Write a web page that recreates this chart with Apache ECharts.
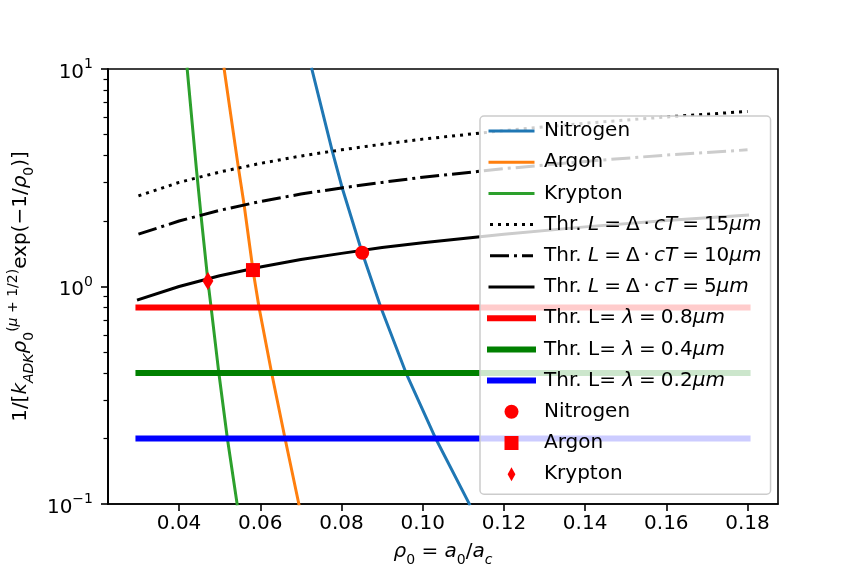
<!DOCTYPE html>
<html lang="en">
<head>
<meta charset="UTF-8">
<title>ADK threshold</title>
<script src="https://cdn.jsdelivr.net/npm/echarts@6/dist/echarts.min.js"></script>
<style>
  html, body { margin: 0; padding: 0; background: #fff; }
  #main { width: 864px; height: 576px; }
</style>
</head>
<body>
<div id="main"></div>
<script>
// ---- data ----
var xTicks = [0.04, 0.06, 0.08, 0.10, 0.12, 0.14, 0.16, 0.18];
var yMinorTicks = [0.2, 0.3, 0.4, 0.5, 0.6, 0.7, 0.8, 0.9, 2, 3, 4, 5, 6, 7, 8, 9];

// ionisation curves [rho0, value]
var nitrogenCurve = [[0.0727, 10], [0.0777, 4.21], [0.0802, 2.83], [0.0851, 1.43],
                     [0.0897, 0.8], [0.0959, 0.4], [0.1032, 0.2], [0.1115, 0.1]];
var argonCurve = [[0.0511, 10], [0.0546, 3.53], [0.0560, 2.39], [0.0582, 1.19],
                  [0.0597, 0.8], [0.0628, 0.4], [0.0661, 0.2], [0.0695, 0.1]];
var kryptonCurve = [[0.0420, 10], [0.0443, 3.43], [0.0454, 2.13], [0.0471, 1.06],
                    [0.0479, 0.8], [0.0498, 0.4], [0.0519, 0.2], [0.0543, 0.1]];

// threshold curves L = delta*cT
var thrX = [0.03, 0.04, 0.05, 0.06, 0.07, 0.08, 0.09, 0.10, 0.12, 0.14, 0.16, 0.18];
var thr5 = [0.87, 1.00, 1.12, 1.23, 1.33, 1.42, 1.51, 1.59, 1.74, 1.88, 2.01, 2.13];
var thr10 = [1.74, 2.00, 2.24, 2.46, 2.66, 2.84, 3.01, 3.18, 3.48, 3.76, 4.02, 4.25];
var thr15 = [2.61, 3.01, 3.36, 3.68, 3.98, 4.25, 4.51, 4.76, 5.21, 5.63, 6.02, 6.38];

// threshold L = lambda
var lambdaX = [0.03, 0.18];
var lam08 = [0.8, 0.8];
var lam04 = [0.4, 0.4];
var lam02 = [0.2, 0.2];

// crossing points
var nitrogenPt = [0.0851, 1.43];
var argonPt = [0.0582, 1.19];
var kryptonPt = [0.0471, 1.06];

function pairs(xs, ys) {
    var out = [];
    for (var i = 0; i < xs.length; i++) out.push([xs[i], ys[i]]);
    return out;
}

var FONT = 'DejaVu Sans';
var mathRich = {
    n: { fontSize: 20, fontFamily: FONT, color: '#000', lineHeight: 30, verticalAlign: 'middle' },
    i: { fontSize: 20, fontFamily: FONT, color: '#000', lineHeight: 30, verticalAlign: 'middle', fontStyle: 'italic' },
    sub: { fontSize: 14, fontFamily: FONT, color: '#000', lineHeight: 22, verticalAlign: 'bottom' },
    isub: { fontSize: 14, fontFamily: FONT, color: '#000', lineHeight: 22, verticalAlign: 'bottom', fontStyle: 'italic' },
    sup: { fontSize: 14, fontFamily: FONT, color: '#000', lineHeight: 17, verticalAlign: 'top' },
    isup: { fontSize: 14, fontFamily: FONT, color: '#000', lineHeight: 17, verticalAlign: 'top', fontStyle: 'italic' }
};

var sp = '\u2005';
var dot = '\u2009·\u2009';
var eq = sp + '=' + sp;
var legendText = {
    'Nitrogen': '{n|Nitrogen}',
    'Argon': '{n|Argon}',
    'Krypton': '{n|Krypton}',
    'thr15': '{n|Thr. }{i|L}{n|' + eq + 'Δ' + dot + '}{i|cT}{n|' + eq + '15}{i|μm}',
    'thr10': '{n|Thr. }{i|L}{n|' + eq + 'Δ' + dot + '}{i|cT}{n|' + eq + '10}{i|μm}',
    'thr5': '{n|Thr. }{i|L}{n|' + eq + 'Δ' + dot + '}{i|cT}{n|' + eq + '5}{i|μm}',
    'lam08': '{n|Thr. L= }{i|λ}{n|' + eq + '0.8}{i|μm}',
    'lam04': '{n|Thr. L= }{i|λ}{n|' + eq + '0.4}{i|μm}',
    'lam02': '{n|Thr. L= }{i|λ}{n|' + eq + '0.2}{i|μm}',
    'Nitrogen pt': '{n|Nitrogen}',
    'Argon pt': '{n|Argon}',
    'Krypton pt': '{n|Krypton}'
};

var diamond = 'path://M5,0 L10,9 L5,18 L0,9 Z';
var square = 'path://M0,0 L10,0 L10,10 L0,10 Z';

function curve(name, data, color, width, type, cap) {
    return {
        name: name, type: 'line', data: data, symbol: 'none', showSymbol: false, clip: true, z: 2,
        lineStyle: { color: color, width: width, type: type, cap: cap },
        itemStyle: { color: color },
        emphasis: { disabled: true }
    };
}

function marker(name, pt, symbol, size) {
    return {
        name: name, type: 'scatter', data: [pt], symbol: symbol, symbolSize: size, z: 5,
        itemStyle: { color: '#ff0000', opacity: 1 },
        emphasis: { disabled: true }
    };
}

function lineItem(name, color, width, type) {
    return {
        name: name,
        itemStyle: { opacity: 0 },
        lineStyle: { color: color, width: width, type: type, opacity: 1 }
    };
}

function markItem(name, icon) {
    return { name: name, icon: icon, itemStyle: { color: '#ff0000', opacity: 1 } };
}

var chart = echarts.init(document.getElementById('main'), null, { renderer: 'canvas' });

var option = {
    backgroundColor: '#ffffff',
    animation: false,
    grid: {
        left: 108, right: 86, top: 69, bottom: 72,
        outerBoundsMode: 'none', containLabel: false,
        show: true, borderColor: '#000', borderWidth: 1.6, backgroundColor: 'transparent'
    },
    xAxis: {
        type: 'value', min: 0.0225, max: 0.1875,
        name: '{i|ρ}{sub|0}{n| = }{i|a}{sub|0}{n|/}{i|a}{isub|c}',
        nameLocation: 'middle', nameGap: 33,
        nameTextStyle: { rich: mathRich },
        axisLine: { show: true, onZero: false, lineStyle: { color: '#000', width: 1.6 } },
        splitLine: { show: false },
        axisTick: { show: true, customValues: xTicks, length: 7, lineStyle: { color: '#000', width: 1.6 } },
        axisLabel: {
            customValues: xTicks, margin: 10,
            fontSize: 20, fontFamily: FONT, color: '#000',
            formatter: function (v) { return v.toFixed(2); }
        }
    },
    yAxis: [{
        type: 'log', logBase: 10, min: 0.1, max: 10,
        name: '{n|1/[}{i|k}{isub|ADK}{i|ρ}{sub|0}{sup|(}{isup|μ}{sup| + 1/2)}{n|exp(−1/}{i|ρ}{sub|0}{n|)]}',
        nameLocation: 'middle', nameGap: 62, nameRotate: 90,
        nameTextStyle: { rich: mathRich },
        axisLine: { show: true, onZero: false, lineStyle: { color: '#000', width: 1.6 } },
        splitLine: { show: false },
        axisTick: { show: true, length: 7, lineStyle: { color: '#000', width: 1.6 } },
        axisLabel: {
            margin: 15, padding: [7, 0, 0, 0],
            formatter: function (v) {
                var e = Math.round(Math.log10(v));
                return '{n|10}{sup|' + (e < 0 ? '−' + (-e) : e) + '}';
            },
            rich: {
                n: { fontSize: 20, fontFamily: FONT, color: '#000', lineHeight: 30, verticalAlign: 'middle' },
                sup: { fontSize: 14, fontFamily: FONT, color: '#000', lineHeight: 14, verticalAlign: 'top' }
            }
        }
    }, {
        // minor ticks of the log axis, placed in log10 space
        type: 'value', min: -1, max: 1, position: 'left', offset: 0,
        axisLine: { show: true, onZero: false, lineStyle: { color: '#000', width: 1.6 } },
        splitLine: { show: false },
        axisLabel: { show: false },
        axisTick: {
            show: true,
            customValues: yMinorTicks.map(function (v) { return Math.log10(v); }),
            length: 4.5, lineStyle: { color: '#000', width: 1.2 }
        }
    }],
    legend: {
        orient: 'vertical', left: 480, top: 116,
        padding: [5, 9, 10, 7],
        itemWidth: 43, itemHeight: 14, itemGap: 11.2,
        backgroundColor: 'rgba(255,255,255,0.8)',
        borderColor: '#cccccc', borderWidth: 1.5, borderRadius: 4,
        selectedMode: false,
        data: [
            lineItem('Nitrogen', '#1f77b4', 3, 'solid'),
            lineItem('Argon', '#ff7f0e', 3, 'solid'),
            lineItem('Krypton', '#2ca02c', 3, 'solid'),
            lineItem('thr15', '#000000', 3, [3, 5]),
            lineItem('thr10', '#000000', 3, [19, 5, 3, 5]),
            lineItem('thr5', '#000000', 3, 'solid'),
            lineItem('lam08', '#ff0000', 6, 'solid'),
            lineItem('lam04', '#008000', 6, 'solid'),
            lineItem('lam02', '#0000ff', 6, 'solid'),
            markItem('Nitrogen pt', 'circle'),
            markItem('Argon pt', square),
            markItem('Krypton pt', diamond)
        ],
        formatter: function (name) { return legendText[name]; },
        textStyle: {
            padding: [0, 0, 0, 6],
            rich: {
                n: { fontSize: 20, fontFamily: FONT, color: '#000', lineHeight: 22 },
                i: { fontSize: 20, fontFamily: FONT, color: '#000', lineHeight: 22, fontStyle: 'italic' }
            }
        }
    },
    series: [
        curve('Nitrogen', nitrogenCurve, '#1f77b4', 3, 'solid', 'square'),
        curve('Argon', argonCurve, '#ff7f0e', 3, 'solid', 'square'),
        curve('Krypton', kryptonCurve, '#2ca02c', 3, 'solid', 'square'),
        curve('thr15', pairs(thrX, thr15), '#000000', 3, [3, 5], 'butt'),
        curve('thr10', pairs(thrX, thr10), '#000000', 3, [19, 5, 3, 5], 'butt'),
        curve('thr5', pairs(thrX, thr5), '#000000', 3, 'solid', 'square'),
        curve('lam08', pairs(lambdaX, lam08), '#ff0000', 6, 'solid', 'square'),
        curve('lam04', pairs(lambdaX, lam04), '#008000', 6, 'solid', 'square'),
        curve('lam02', pairs(lambdaX, lam02), '#0000ff', 6, 'solid', 'square'),
        marker('Nitrogen pt', nitrogenPt, 'circle', 14),
        marker('Argon pt', argonPt, 'rect', 14),
        marker('Krypton pt', kryptonPt, diamond, [11, 18])
    ]
};

chart.setOption(option);
</script>
</body>
</html>
